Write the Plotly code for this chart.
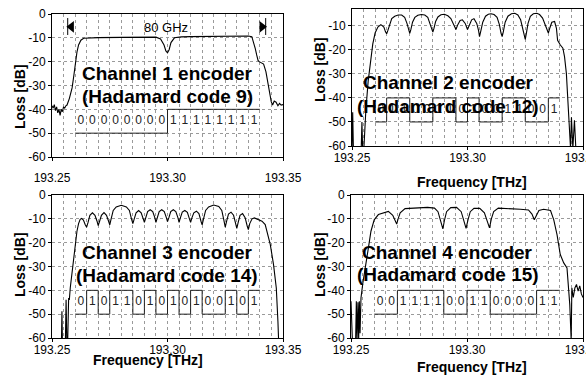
import plotly.graph_objects as go

W, H = 586, 378
FONT = "Liberation Sans, Arial, sans-serif"

# ---------------- data ----------------
freq1 = [193.2500, 193.2505, 193.2510, 193.2515, 193.2520, 193.2525, 193.2530, 193.2535, 193.2540, 193.2545,
         193.2550, 193.2555, 193.2560, 193.2565, 193.2575, 193.2587, 193.2595, 193.2601, 193.2608, 193.2615,
         193.2625, 193.2637, 193.2660, 193.2700, 193.2800, 193.2900, 193.2950, 193.2970, 193.2985, 193.2993,
         193.3000, 193.3007, 193.3015, 193.3030, 193.3060, 193.3100, 193.3200, 193.3300, 193.3350, 193.3365,
         193.3372, 193.3380, 193.3386, 193.3392, 193.3397, 193.3405, 193.3416, 193.3426, 193.3432, 193.3437,
         193.3443, 193.3449, 193.3455, 193.3462, 193.3470, 193.3478, 193.3485, 193.3492, 193.3500]
loss1 = [-38.5, -39.5, -38.0, -40.5, -39.0, -41.5, -40.0, -42.5, -40.0, -41.0,
         -39.0, -39.5, -38.5, -38.2, -35.5, -31.0, -25.5, -20.0, -16.0, -13.0,
         -11.0, -10.2, -10.0, -9.9, -9.8, -9.7, -9.7, -10.5, -13.0, -15.5,
         -16.3, -15.0, -12.0, -10.0, -9.6, -9.5, -9.4, -9.2, -9.2, -9.5,
         -11.6, -14.5, -17.2, -19.5, -20.0, -20.5, -21.0, -24.2, -27.5, -31.2,
         -34.5, -36.8, -38.2, -36.5, -37.0, -38.5, -37.5, -38.2, -38.0]

freq2 = [193.2500, 193.2503, 193.2506, 193.2509, 193.2540, 193.2543, 193.2546, 193.2552, 193.2560, 193.2570,
         193.2580, 193.2590, 193.2600, 193.2612, 193.2625, 193.2638, 193.2645, 193.2650, 193.2655, 193.2662,
         193.2672, 193.2685, 193.2700, 193.2715, 193.2728, 193.2738, 193.2745, 193.2750, 193.2755, 193.2762,
         193.2772, 193.2785, 193.2800, 193.2815, 193.2828, 193.2838, 193.2845, 193.2850, 193.2855, 193.2862,
         193.2872, 193.2885, 193.2900, 193.2915, 193.2928, 193.2940, 193.2950, 193.2958, 193.2968, 193.2978,
         193.2990, 193.3000, 193.3008, 193.3018, 193.3028, 193.3040, 193.3048, 193.3052, 193.3058, 193.3066,
         193.3078, 193.3090, 193.3102, 193.3115, 193.3128, 193.3138, 193.3145, 193.3150, 193.3155, 193.3163,
         193.3175, 193.3190, 193.3205, 193.3218, 193.3230, 193.3240, 193.3247, 193.3250, 193.3255, 193.3262,
         193.3272, 193.3285, 193.3300, 193.3312, 193.3325, 193.3337, 193.3345, 193.3350, 193.3356, 193.3365,
         193.3377, 193.3385, 193.3390, 193.3395, 193.3402, 193.3413, 193.3420, 193.3428, 193.3435, 193.3442,
         193.3446, 193.3450, 193.3453, 193.3456, 193.3463, 193.3466, 193.3469, 193.3500]
loss2 = [-61.0, -46.0, -61.0, -61.0, -61.0, -50.0, -61.0, -60.0, -45.0, -33.0,
         -24.0, -17.5, -13.0, -10.5, -9.5, -10.5, -12.5, -13.3, -12.0, -9.5,
         -7.0, -6.0, -5.5, -5.5, -6.5, -9.0, -12.0, -13.1, -11.5, -8.5,
         -6.5, -5.6, -5.3, -5.5, -6.5, -9.0, -11.5, -12.6, -11.0, -8.2,
         -6.3, -5.4, -5.2, -5.8, -7.0, -9.5, -11.5, -9.5, -7.8, -7.5,
         -9.0, -11.5, -9.5, -7.5, -7.0, -9.0, -12.0, -14.5, -12.0, -8.5,
         -6.0, -5.2, -5.0, -5.3, -6.5, -9.5, -13.0, -14.5, -12.5, -8.5,
         -6.0, -5.0, -4.8, -5.5, -7.5, -11.0, -14.5, -15.6, -13.0, -9.0,
         -6.0, -5.0, -4.8, -5.3, -6.8, -9.5, -12.0, -13.0, -11.0, -8.5,
         -8.2, -11.0, -16.0, -17.0, -18.0, -19.3, -22.8, -29.8, -41.0, -52.0,
         -61.0, -48.0, -61.0, -61.0, -49.3, -61.0, -61.0, -61.0]

freq3 = [193.2500, 193.2541, 193.2543, 193.2545, 193.2558, 193.2561, 193.2564, 193.2568, 193.2572, 193.2575,
         193.2579, 193.2587, 193.2594, 193.2601, 193.2608, 193.2615, 193.2622, 193.2628, 193.2636, 193.2644,
         193.2650, 193.2656, 193.2664, 193.2675, 193.2686, 193.2695, 193.2700, 193.2706, 193.2714, 193.2725,
         193.2736, 193.2745, 193.2750, 193.2756, 193.2765, 193.2778, 193.2800, 193.2822, 193.2835, 193.2844,
         193.2850, 193.2856, 193.2864, 193.2875, 193.2886, 193.2895, 193.2900, 193.2906, 193.2914, 193.2925,
         193.2936, 193.2945, 193.2950, 193.2956, 193.2964, 193.2975, 193.2986, 193.2995, 193.3000, 193.3006,
         193.3014, 193.3025, 193.3036, 193.3045, 193.3050, 193.3056, 193.3064, 193.3075, 193.3086, 193.3095,
         193.3100, 193.3106, 193.3114, 193.3125, 193.3136, 193.3145, 193.3150, 193.3156, 193.3165, 193.3178,
         193.3200, 193.3222, 193.3235, 193.3244, 193.3250, 193.3256, 193.3264, 193.3275, 193.3286, 193.3295,
         193.3300, 193.3306, 193.3314, 193.3325, 193.3336, 193.3345, 193.3350, 193.3356, 193.3366, 193.3376,
         193.3390, 193.3409, 193.3423, 193.3431, 193.3445, 193.3459, 193.3471, 193.3478, 193.3481, 193.3500]
loss3 = [-61.0, -61.0, -48.8, -61.0, -61.0, -44.0, -61.0, -61.0, -43.2, -44.0,
         -39.0, -32.0, -25.0, -19.0, -15.2, -12.0, -10.2, -9.8, -10.5, -12.5,
         -13.5, -11.5, -8.5, -7.5, -8.5, -11.0, -12.8, -11.0, -8.5, -7.4,
         -8.5, -11.0, -12.5, -10.0, -6.5, -5.0, -4.3, -5.0, -6.5, -10.0,
         -12.0, -10.0, -7.5, -6.5, -7.5, -10.0, -11.5, -9.5, -7.0, -6.2,
         -7.0, -9.5, -11.5, -9.5, -7.0, -6.2, -7.0, -9.5, -11.2, -9.5,
         -7.0, -6.2, -7.0, -9.5, -11.5, -9.5, -7.2, -6.5, -7.3, -10.0,
         -11.5, -9.5, -7.5, -6.8, -7.8, -11.0, -12.5, -10.0, -6.5, -5.0,
         -4.2, -4.8, -6.5, -10.5, -13.5, -11.0, -8.0, -7.2, -8.5, -12.0,
         -14.0, -11.5, -8.5, -7.8, -9.5, -13.0, -14.5, -12.0, -10.0, -9.6,
         -10.3, -11.0, -12.4, -15.2, -20.8, -29.2, -39.0, -53.0, -61.0, -61.0]

freq4 = [193.2500, 193.2503, 193.2506, 193.2520, 193.2523, 193.2526, 193.2530, 193.2533, 193.2536, 193.2539,
         193.2543, 193.2551, 193.2560, 193.2575, 193.2586, 193.2600, 193.2618, 193.2640, 193.2661, 193.2680,
         193.2690, 193.2697, 193.2703, 193.2712, 193.2733, 193.2780, 193.2830, 193.2860, 193.2875, 193.2888,
         193.2896, 193.2903, 193.2912, 193.2930, 193.2955, 193.2975, 193.2988, 193.2996, 193.3004, 193.3014,
         193.3030, 193.3055, 193.3075, 193.3088, 193.3097, 193.3105, 193.3115, 193.3135, 193.3180, 193.3230,
         193.3265, 193.3280, 193.3290, 193.3298, 193.3310, 193.3330, 193.3360, 193.3374, 193.3388, 193.3402,
         193.3417, 193.3431, 193.3436, 193.3443, 193.3449, 193.3452, 193.3458, 193.3465, 193.3472, 193.3479,
         193.3486, 193.3493, 193.3500]
loss4 = [-44.6, -50.0, -61.0, -61.0, -44.6, -61.0, -45.0, -61.0, -44.6, -58.0,
         -43.2, -37.0, -32.0, -22.2, -15.2, -10.4, -8.2, -7.5, -6.9, -8.5,
         -11.0, -12.2, -10.0, -7.5, -5.7, -5.4, -5.2, -5.5, -7.0, -11.5,
         -14.2, -10.5, -7.0, -5.3, -5.2, -7.0, -11.5, -14.0, -10.5, -7.0,
         -5.6, -5.6, -7.5, -11.5, -13.8, -10.0, -7.0, -5.5, -5.6, -6.0,
         -6.3, -8.0, -10.4, -9.0, -6.5, -6.0, -6.5, -10.4, -16.6, -25.0,
         -28.5, -30.6, -36.2, -46.0, -61.0, -39.0, -43.0, -39.0, -37.5, -40.3,
         -38.1, -41.5, -43.0]

chip_edges = [193.260, 193.265, 193.270, 193.275, 193.280, 193.285, 193.290, 193.295, 193.300,
              193.305, 193.310, 193.315, 193.320, 193.325, 193.330, 193.335, 193.340]
chip_centers = [193.2625, 193.2675, 193.2725, 193.2775, 193.2825, 193.2875, 193.2925, 193.2975,
                193.3025, 193.3075, 193.3125, 193.3175, 193.3225, 193.3275, 193.3325, 193.3375]
code1 = [0, 0, 0, 0, 0, 0, 0, 0, 1, 1, 1, 1, 1, 1, 1, 1]   # Hadamard code 9
code2 = [0, 1, 1, 0, 0, 1, 1, 0, 1, 0, 0, 1, 1, 0, 0, 1]   # Hadamard code 12
code3 = [0, 1, 0, 1, 1, 0, 1, 0, 1, 0, 1, 0, 0, 1, 0, 1]   # Hadamard code 14
code4 = [0, 0, 1, 1, 1, 1, 0, 0, 1, 1, 0, 0, 0, 0, 1, 1]   # Hadamard code 15
level_one, level_zero, level_text = -40, -50, -45

titles = [("Channel 1 encoder", "(Hadamard code 9)"),
          ("Channel 2 encoder", "(Hadamard code 12)"),
          ("Channel 3 encoder", "(Hadamard code 14)"),
          ("Channel 4 encoder", "(Hadamard code 15)")]

x_ticks = [193.25, 193.30, 193.35]
x_tick_labels = ["193.25", "193.30", "193.35"]
y_ticks = [0, -10, -20, -30, -40, -50, -60]
y_tick_labels = ["0", "-10", "-20", "-30", "-40", "-50", "-60"]

band_edges = [193.2568, 193.3425]
band_label = "80 GHz"

# ---------------- layout helpers (pixel boxes) ----------------
def px_x(p):
    return p / W

def px_y(p):
    return 1 - p / H

panels = [
    dict(x=(52, 283), y=(14, 157), yr=[-60, 0], title_y=(-25.0, -34.6), title_x=193.2998, std=7),
    dict(x=(352, 583), y=(9, 146), yr=[-60, -3.0], title_y=(-33.4, -43.4), title_x=193.2916, std=-2),
    dict(x=(52, 283), y=(195, 338), yr=[-60, 0], title_y=(-24.0, -33.6), title_x=193.2999, std=-2),
    dict(x=(351, 583), y=(195, 338), yr=[-60, 0], title_y=(-24.0, -33.4), title_x=193.2918, std=-2),
]
series = [(freq1, loss1, code1), (freq2, loss2, code2), (freq3, loss3, code3), (freq4, loss4, code4)]

fig = go.Figure()
layout = dict(width=W, height=H, margin=dict(l=0, r=0, t=0, b=0, pad=0, autoexpand=False),
              paper_bgcolor="white", plot_bgcolor="white", showlegend=False,
              font=dict(family=FONT, size=12, color="black"))
annotations = []

grid_col = "#9a9a9a"
for i, (p, (fx, ly, code)) in enumerate(zip(panels, series)):
    n = "" if i == 0 else str(i + 1)
    xa, ya = "x" + n, "y" + n
    layout["xaxis" + n] = dict(
        domain=[px_x(p["x"][0]), px_x(p["x"][1])], range=[193.25, 193.35], anchor=ya,
        tickmode="array", tickvals=x_ticks, ticktext=x_tick_labels,
        ticks="outside", ticklen=3, tickcolor="black",
        showline=True, linecolor="black", linewidth=1, mirror=True,
        showgrid=True, gridcolor=grid_col, griddash="dot", gridwidth=1,
        minor=dict(tick0=193.25, dtick=0.005, showgrid=True, gridcolor=grid_col,
                   griddash="dot", gridwidth=1, ticks=""),
        tickfont=dict(size=12, family=FONT), zeroline=False, automargin=False,
        ticklabelstandoff=p["std"], ticklabeloverflow="allow",
    )
    layout["yaxis" + n] = dict(
        domain=[px_y(p["y"][1]), px_y(p["y"][0])], range=p["yr"], anchor=xa,
        tickmode="array", tickvals=y_ticks, ticktext=y_tick_labels,
        ticks="outside", ticklen=3, tickcolor="black",
        showline=True, linecolor="black", linewidth=1, mirror=True,
        showgrid=True, gridcolor=grid_col, griddash="dot", gridwidth=1,
        tickfont=dict(size=12, family=FONT), zeroline=False, automargin=False,
    )
    # spectrum
    fig.add_trace(go.Scatter(x=fx, y=ly, mode="lines", xaxis=xa, yaxis=ya,
                             line=dict(color="black", width=1.1), hoverinfo="skip"))
    # code waveform
    levels = [level_one if b else level_zero for b in code]
    fig.add_trace(go.Scatter(x=chip_edges, y=levels + [levels[-1]], mode="lines",
                             line=dict(color="#222222", width=1, shape="hv"),
                             xaxis=xa, yaxis=ya, hoverinfo="skip"))
    fig.add_trace(go.Scatter(x=chip_centers, y=[level_text] * len(code), mode="text",
                             text=[str(b) for b in code], xaxis=xa, yaxis=ya,
                             textfont=dict(size=12, color="#222222", family=FONT),
                             hoverinfo="skip"))
    # channel titles
    for txt, yv in zip(titles[i], p["title_y"]):
        annotations.append(dict(x=p["title_x"], y=yv, xref=xa, yref=ya, text="<b>%s</b>" % txt,
                                showarrow=False, font=dict(size=19, family=FONT, color="black"),
                                xanchor="center", yanchor="middle"))

# band marker in panel 1
fig.add_trace(go.Scatter(x=[band_edges[0], band_edges[0], None, band_edges[1], band_edges[1]],
                         y=[-1.7, -8.8, None, -1.7, -8.8], mode="lines",
                         line=dict(color="black", width=1), xaxis="x", yaxis="y", hoverinfo="skip"))
fig.add_trace(go.Scatter(x=[band_edges[0] + 0.0016, band_edges[1] - 0.0016], y=[-5.4, -5.4],
                         mode="markers", marker=dict(symbol=["triangle-left", "triangle-right"],
                                                     size=10, color="black"),
                         xaxis="x", yaxis="y", hoverinfo="skip", cliponaxis=False))
annotations.append(dict(x=193.2995, y=-5.6, xref="x", yref="y", text=band_label, showarrow=False,
                        font=dict(size=13, family=FONT), xanchor="center", yanchor="middle"))

# axis titles (placed in pixel positions)
for (xp, yp) in [(20, 97), (320, 70), (20, 265), (320, 265)]:
    annotations.append(dict(x=px_x(xp), y=px_y(yp), xref="paper", yref="paper",
                            text="<b>Loss [dB]</b>", textangle=-90, showarrow=False,
                            font=dict(size=14, family=FONT), xanchor="center", yanchor="middle"))
for (xp, yp) in [(472, 182), (148, 360), (472, 367)]:
    annotations.append(dict(x=px_x(xp), y=px_y(yp), xref="paper", yref="paper",
                            text="<b>Frequency [THz]</b>", showarrow=False,
                            font=dict(size=14, family=FONT), xanchor="center", yanchor="middle"))

layout["annotations"] = annotations
fig.update_layout(**layout)
fig.write_html("out.html", config={"displayModeBar": False},
               post_script="document.body.style.margin='0px';document.body.style.overflow='hidden';")
